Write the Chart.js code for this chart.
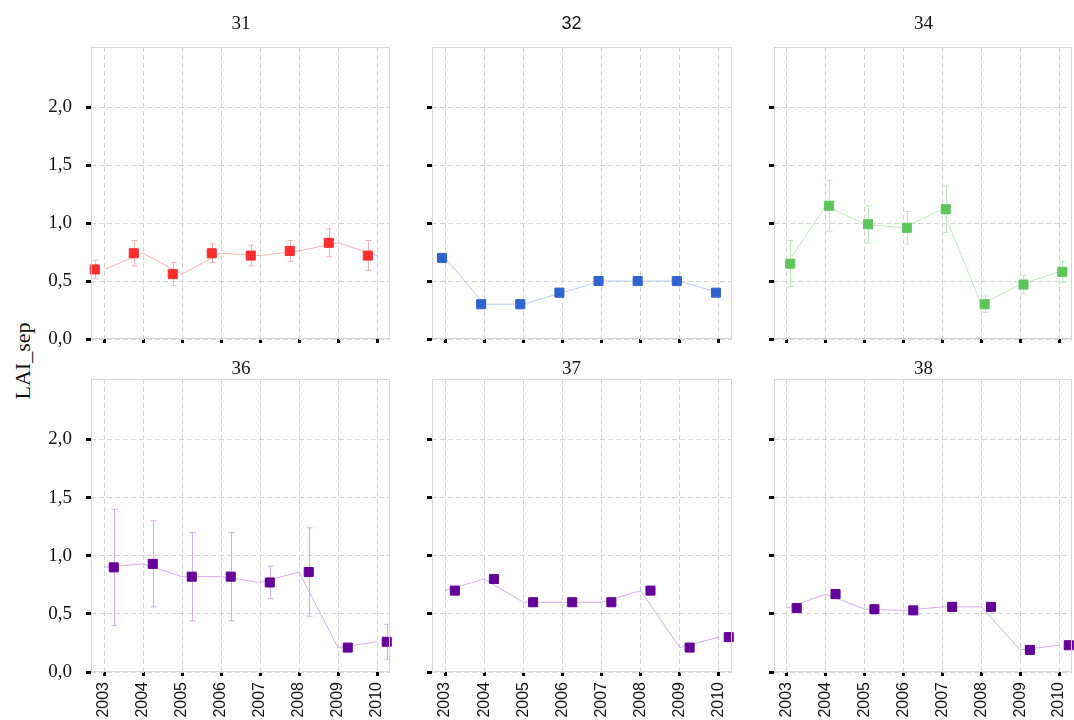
<!DOCTYPE html>
<html>
<head>
<meta charset="utf-8">
<script src="https://cdn.jsdelivr.net/npm/chart.js@4/dist/chart.umd.min.js"></script>
<style>
  html, body { margin: 0; padding: 0; width: 1074px; height: 720px; overflow: hidden; background: #fff; }
  canvas.panel { position: absolute; }
  #ylab {
    position: absolute; left: 23px; top: 361px;
    transform: translate(-50%, -50%) rotate(-90deg);
    font: 22px "Liberation Serif", serif; color: #111; white-space: nowrap;
  }
</style>
</head>
<body>
<div id="ylab">LAI_sep</div>
<script>
// Years on the x axis and tick values on the y axis
const years = ['2003', '2004', '2005', '2006', '2007', '2008', '2009', '2010'];
const yTicks = [0, 0.5, 1.0, 1.5, 2.0];
const sites = ['31', '32', '34', '36', '37', '38'];

// LAI_sep per site and year, with ± error where measured
const lai31 = [0.60, 0.74, 0.56, 0.74, 0.72, 0.76, 0.83, 0.72];
const err31 = [0.08, 0.11, 0.10, 0.08, 0.09, 0.09, 0.12, 0.13];
const lai32 = [0.70, 0.30, 0.30, 0.40, 0.50, 0.50, 0.50, 0.40];
const err32 = [0, 0, 0, 0, 0, 0, 0, 0];
const lai34 = [0.65, 1.15, 0.99, 0.96, 1.12, 0.30, 0.47, 0.58];
const err34 = [0.20, 0.22, 0.16, 0.14, 0.20, 0.07, 0.08, 0.09];
const lai36 = [0.90, 0.93, 0.82, 0.82, 0.77, 0.86, 0.21, 0.26];
const err36 = [0.50, 0.37, 0.38, 0.38, 0.14, 0.38, 0, 0.15];
const lai37 = [0.70, 0.80, 0.60, 0.60, 0.60, 0.70, 0.21, 0.30];
const err37 = [0, 0, 0, 0, 0, 0, 0, 0];
const lai38 = [0.55, 0.67, 0.54, 0.53, 0.56, 0.56, 0.19, 0.23];
const err38 = [0.035, 0.04, 0.04, 0.03, 0.04, 0.03, 0, 0];

// Grid geometry (plot frames) and per-panel styling
const colLeft = [91, 432, 774], colRight = [390, 732, 1072];
const rowTop = [47, 379], rowBottom = [339, 672];
const titleX = [241, 571.5, 923.5];
const titleGap = [23, 10];
const AXIS_W = 45, PAD_TOP = 47, PAD_RIGHT = 14, XAXIS_H = [32, 60];

const panels = [
  { name: sites[0], values: lai31, errors: err31, col: 0, row: 0, color: '#fb2e2e', light: '#f7b4b4', shift: -0.237, titleFont: '"Liberation Serif", serif', titleSize: 19 },
  { name: sites[1], values: lai32, errors: err32, col: 1, row: 0, color: '#2f63cf', light: '#b9ccef', shift: -0.077, titleFont: '"Liberation Sans", sans-serif', titleSize: 18 },
  { name: sites[2], values: lai34, errors: err34, col: 2, row: 0, color: '#5cc65c', light: '#bfe8bf', shift: 0.085, titleFont: '"Liberation Serif", serif', titleSize: 19 },
  { name: sites[3], values: lai36, errors: err36, col: 0, row: 1, color: '#640099', light: '#d2aee8', shift: 0.25, titleFont: '"Liberation Serif", serif', titleSize: 19 },
  { name: sites[4], values: lai37, errors: err37, col: 1, row: 1, color: '#640099', light: '#d2aee8', shift: 0.25, titleFont: '"Liberation Serif", serif', titleSize: 19 },
  { name: sites[5], values: lai38, errors: err38, col: 2, row: 1, color: '#640099', light: '#d2aee8', shift: 0.25, titleFont: '"Liberation Serif", serif', titleSize: 19 }
];

// Per-panel plugin: error bars under the markers, frame and panel title on top
function panelDecor(p) {
  return {
    id: 'panelDecor',
    beforeDatasetsDraw(chart) {
      const { ctx, scales: { x, y } } = chart;
      ctx.save();
      ctx.strokeStyle = p.light;
      ctx.lineWidth = 1;
      p.values.forEach((v, i) => {
        const e = p.errors[i];
        if (!e) return;
        const px = Math.round(x.getPixelForValue(i + p.shift)) + 0.5;
        const y1 = y.getPixelForValue(v + e), y2 = y.getPixelForValue(v - e);
        ctx.beginPath();
        ctx.moveTo(px, y1); ctx.lineTo(px, y2);
        ctx.moveTo(px - 3, y1); ctx.lineTo(px + 3, y1);
        ctx.moveTo(px - 3, y2); ctx.lineTo(px + 3, y2);
        ctx.stroke();
      });
      ctx.restore();
    },
    afterDraw(chart) {
      const { ctx, chartArea: a } = chart;
      ctx.save();
      ctx.strokeStyle = '#d6d6d6';
      ctx.lineWidth = 1;
      ctx.strokeRect(a.left + 0.5, a.top + 0.5, a.right - a.left - 1, a.bottom - a.top - 1);
      ctx.fillStyle = '#111';
      ctx.font = p.titleSize + 'px ' + p.titleFont;
      ctx.textAlign = 'center';
      ctx.textBaseline = 'middle';
      const cx = titleX[p.col] - (colLeft[p.col] - AXIS_W);
      ctx.fillText(p.name, cx, a.top - titleGap[p.row]);
      ctx.restore();
    }
  };
}

panels.forEach(p => {
  const left = colLeft[p.col] - AXIS_W;
  const top = rowTop[p.row] - PAD_TOP;
  const w = AXIS_W + (colRight[p.col] - colLeft[p.col]) + PAD_RIGHT;
  const h = PAD_TOP + (rowBottom[p.row] - rowTop[p.row]) + XAXIS_H[p.row];
  const cv = document.createElement('canvas');
  cv.className = 'panel';
  cv.width = w; cv.height = h;
  cv.style.left = left + 'px'; cv.style.top = top + 'px';
  cv.style.width = w + 'px'; cv.style.height = h + 'px';
  document.body.appendChild(cv);

  const showY = p.col === 0, showX = p.row === 1;

  new Chart(cv, {
    type: 'scatter',
    data: {
      datasets: [
        {
          data: p.values.map((v, i) => ({ x: i, y: v })),
          showLine: true,
          borderColor: p.light,
          borderWidth: 1,
          pointRadius: 0,
          order: 2
        },
        {
          data: p.values.map((v, i) => ({ x: i + p.shift, y: v })),
          showLine: false,
          pointStyle: 'rect',
          pointRadius: 6.4,
          backgroundColor: p.color,
          borderColor: p.color,
          borderWidth: 1,
          clip: false,
          order: 1
        }
      ]
    },
    options: {
      responsive: false,
      animation: false,
      events: [],
      devicePixelRatio: 1,
      layout: { padding: { top: PAD_TOP, right: PAD_RIGHT, left: 0, bottom: 0 } },
      plugins: { legend: { display: false }, tooltip: { enabled: false }, title: { display: false } },
      scales: {
        x: {
          type: 'linear',
          position: 'bottom',
          min: -1 / 3,
          max: years.length - 1 + 1 / 3,
          afterBuildTicks: s => { s.ticks = years.map((_, i) => ({ value: i })); },
          afterFit: s => { s.height = XAXIS_H[p.row]; },
          grid: {
            color: '#d4d4d4', lineWidth: 1,
            tickColor: '#000', tickWidth: 3, tickLength: 4, tickBorderDash: []
          },
          border: { display: false, dash: [5, 3] },
          ticks: {
            display: showX,
            autoSkip: false,
            minRotation: 90, maxRotation: 90,
            padding: 6,
            color: '#111',
            font: { family: '"Liberation Sans", sans-serif', size: 16 },
            callback: v => years[v]
          }
        },
        y: {
          type: 'linear',
          position: 'left',
          min: 0,
          max: 2.52,
          afterBuildTicks: s => { s.ticks = yTicks.map(v => ({ value: v })); },
          afterFit: s => { s.width = AXIS_W; },
          grid: {
            color: '#d4d4d4', lineWidth: 1,
            tickColor: '#000', tickWidth: 3, tickLength: 5, tickBorderDash: []
          },
          border: { display: false, dash: [5, 3] },
          ticks: {
            display: showY,
            padding: 14,
            color: '#111',
            font: { family: '"Liberation Serif", serif', size: 19 },
            callback: v => v.toFixed(1).replace('.', ',')
          }
        }
      }
    },
    plugins: [panelDecor(p)]
  });
});
</script>
</body>
</html>
